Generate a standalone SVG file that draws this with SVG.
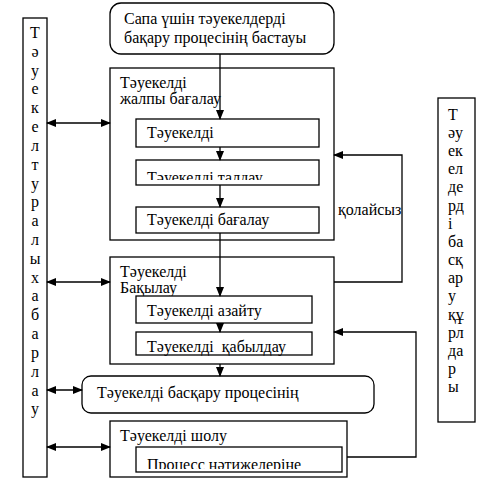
<svg xmlns="http://www.w3.org/2000/svg" width="499" height="484" viewBox="0 0 499 484">
<style>
.b{fill:#fff;stroke:#000;stroke-width:1.3}
.t{font-family:"Liberation Serif","DejaVu Serif","Times New Roman",serif;font-size:16px;fill:#000}
.c{fill:none;stroke:#000;stroke-width:1.3}
</style>
<defs>
<marker id="a" markerWidth="10" markerHeight="8" refX="9" refY="4" orient="auto-start-reverse" markerUnits="userSpaceOnUse">
<path d="M0,0 L10,4 L0,8 Z" fill="#000"/>
</marker>
<clipPath id="k1"><rect x="136" y="160" width="183" height="20"/></clipPath>
<clipPath id="k2"><rect x="136" y="447" width="206" height="22"/></clipPath>
</defs>
<rect width="499" height="484" fill="#fff"/>
<g id="start">
<rect class="b" x="110" y="3" width="224" height="51" rx="11"/>
<text class="t" x="124" y="24">Сапа үшін тәуекелдерді</text>
<text class="t" x="124" y="43">бақару процесінің бастауы</text>
</g>
<g id="left">
<rect class="b" x="23" y="18" width="24" height="459"/>
<text class="t" text-anchor="middle">
<tspan x="35" y="38">Т</tspan><tspan x="35" y="57">ә</tspan><tspan x="35" y="76">у</tspan><tspan x="35" y="94">е</tspan><tspan x="35" y="113">к</tspan><tspan x="35" y="132">е</tspan><tspan x="35" y="151">л</tspan><tspan x="35" y="170">т</tspan><tspan x="35" y="189">у</tspan><tspan x="35" y="207">р</tspan><tspan x="35" y="226">а</tspan><tspan x="35" y="245">л</tspan><tspan x="35" y="264">ы</tspan><tspan x="35" y="283">х</tspan><tspan x="35" y="301">а</tspan><tspan x="35" y="320">б</tspan><tspan x="35" y="339">а</tspan><tspan x="35" y="358">р</tspan><tspan x="35" y="377">л</tspan><tspan x="35" y="396">а</tspan><tspan x="35" y="414">у</tspan>
</text>
</g>
<g id="right">
<rect class="b" x="438" y="98" width="37" height="324"/>
<text class="t">
<tspan x="448" y="120">Т</tspan><tspan x="448" y="138">әу</tspan><tspan x="448" y="156">ек</tspan><tspan x="448" y="174">ел</tspan><tspan x="448" y="192">де</tspan><tspan x="448" y="211">рд</tspan><tspan x="448" y="229">і</tspan><tspan x="448" y="247">ба</tspan><tspan x="448" y="265">сқ</tspan><tspan x="448" y="283">ар</tspan><tspan x="448" y="301">у</tspan><tspan x="448" y="320">құ</tspan><tspan x="448" y="338">рл</tspan><tspan x="448" y="356">да</tspan><tspan x="448" y="374">р</tspan><tspan x="448" y="392">ы</tspan>
</text>
</g>
<g id="assess">
<rect class="b" x="110" y="68" width="224" height="172"/>
<text class="t" x="120" y="88">Тәуекелді</text>
<text class="t" x="120" y="104">жалпы бағалау</text>
</g>
<g id="identify">
<rect class="b" x="136" y="119" width="183" height="28"/>
<text class="t" x="147" y="138">Тәуекелді</text>
</g>
<g id="analyse">
<rect class="b" x="136" y="160" width="183" height="25"/>
<text class="t" x="147" y="183" clip-path="url(#k1)">Тәуекелді талдау</text>
</g>
<g id="evaluate">
<rect class="b" x="136" y="207" width="183" height="26"/>
<text class="t" x="147" y="225">Тәуекелді бағалау</text>
</g>
<g id="control">
<rect class="b" x="110" y="257" width="224" height="107"/>
<text class="t" x="120" y="277">Тәуекелді</text>
<text class="t" x="120" y="293">Бақылау</text>
</g>
<g id="reduce">
<rect class="b" x="136" y="296" width="176" height="27"/>
<text class="t" x="147" y="316">Тәуекелді азайту</text>
</g>
<g id="accept">
<rect class="b" x="136" y="332" width="176" height="23"/>
<text class="t" x="147" y="352" xml:space="preserve">Тәуекелді  қабылдау</text>
</g>
<g id="process">
<rect class="b" x="82" y="376" width="292" height="37" rx="9"/>
<text class="t" x="97" y="398">Тәуекелді басқару процесінің</text>
</g>
<g id="review">
<rect class="b" x="110" y="421" width="237" height="56"/>
<text class="t" x="120" y="441">Тәуекелді шолу</text>
</g>
<g id="results">
<rect class="b" x="136" y="447" width="206" height="25"/>
<text class="t" x="147" y="470" clip-path="url(#k2)">Процесс нәтижелеріне</text>
</g>
<g id="connectors">
<line class="c" x1="220" y1="54" x2="220" y2="119" marker-end="url(#a)"/>
<line class="c" x1="220" y1="147" x2="220" y2="160" marker-end="url(#a)"/>
<line class="c" x1="220" y1="185" x2="220" y2="207" marker-end="url(#a)"/>
<line class="c" x1="220" y1="233" x2="220" y2="296" marker-end="url(#a)"/>
<line class="c" x1="220" y1="323" x2="220" y2="332" marker-end="url(#a)"/>
<line class="c" x1="220" y1="364" x2="220" y2="376" marker-end="url(#a)"/>
<polyline class="c" points="334,282 402,282 402,155 334,155" marker-end="url(#a)"/>
<polyline class="c" points="347,457 416,457 416,332 334,332" marker-end="url(#a)"/>
<line class="c" x1="47" y1="123" x2="110" y2="123" marker-start="url(#a)" marker-end="url(#a)"/>
<line class="c" x1="47" y1="282" x2="110" y2="282" marker-start="url(#a)" marker-end="url(#a)"/>
<line class="c" x1="47" y1="390" x2="82" y2="390" marker-start="url(#a)" marker-end="url(#a)"/>
<line class="c" x1="47" y1="447" x2="110" y2="447" marker-start="url(#a)" marker-end="url(#a)"/>
<text class="t" x="338" y="215">қолайсыз</text>
</g>
</svg>
